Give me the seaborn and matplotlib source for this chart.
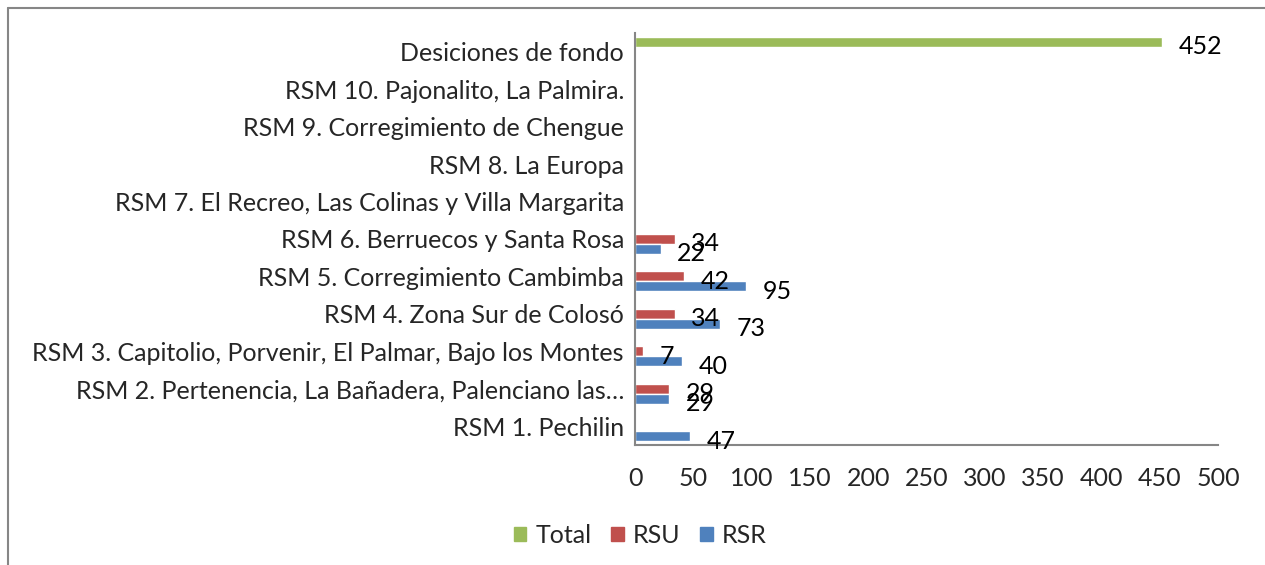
import pandas as pd
import matplotlib.pyplot as plt
import matplotlib.patches as mpatches
from matplotlib.lines import Line2D
import seaborn as sns
import numpy as np

# === Data ===
categories = [
    "RSM 1. Pechilin",
    "RSM 2. Pertenencia, La Bañadera, Palenciano las…",
    "RSM 3. Capitolio, Porvenir, El Palmar, Bajo los Montes",
    "RSM 4. Zona Sur de Colosó",
    "RSM 5. Corregimiento Cambimba",
    "RSM 6. Berruecos y Santa Rosa",
    "RSM 7. El Recreo, Las Colinas y Villa Margarita",
    "RSM 8. La Europa",
    "RSM 9. Corregimiento de Chengue",
    "RSM 10. Pajonalito, La Palmira.",
    "Desiciones de fondo",
]
rsr = [47, 29, 40, 73, 95, 22, np.nan, np.nan, np.nan, np.nan, np.nan]
rsu = [np.nan, 29, 7, 34, 42, 34, np.nan, np.nan, np.nan, np.nan, np.nan]
total = [np.nan] * 10 + [452]

series_order = ["Total", "RSU", "RSR"]
colors = {"Total": "#9BBB59", "RSU": "#C0504D", "RSR": "#4F81BD"}
x_ticks = list(range(0, 501, 50))

df = pd.DataFrame({"cat": categories, "RSR": rsr, "RSU": rsu, "Total": total})
long_df = df.melt(id_vars="cat", var_name="serie", value_name="valor").dropna()

# === Style ===
sns.set_theme(style="white")
plt.rcParams["font.family"] = ["Lato", "DejaVu Sans"]
FS = 18

fig = plt.figure(figsize=(12.65, 5.65), dpi=100)
ax = fig.add_axes([0.502, 0.212, 0.461, 0.730])

sns.barplot(
    data=long_df, y="cat", x="valor", hue="serie",
    order=categories[::-1], hue_order=series_order,
    palette=colors, errorbar=None, width=0.8, saturation=1,
    orient="h", ax=ax,
)

# data labels, a bit right of the bar end and slightly lower (as in Excel)
for c in ax.containers:
    texts = ax.bar_label(c, fmt="%.0f", padding=12, fontsize=FS, color="black")
    for t in texts:
        t.xyann = (12, -3.5)

ax.set_xlim(0, 500)
ax.set_xticks(x_ticks)
ax.set_ylim(10.5, -0.5)
ax.set_xlabel("")
ax.set_ylabel("")
ax.tick_params(axis="x", length=0, pad=16, labelsize=FS)
ax.tick_params(axis="y", length=0, pad=8, labelsize=FS)
for s in ["top", "right"]:
    ax.spines[s].set_visible(False)
for s in ["left", "bottom"]:
    ax.spines[s].set_color("#868686")
    ax.spines[s].set_linewidth(1.5)

ax.get_legend().remove()
handles = [mpatches.Patch(color=colors[s], label=s) for s in series_order]
fig.legend(handles=handles, loc="center", bbox_to_anchor=(0.506, 0.053),
           ncol=3, frameon=False, fontsize=FS, handlelength=0.5,
           handleheight=0.5, handletextpad=0.35, columnspacing=0.8)

# chart area border (top and left visible, rest cropped)
fig.add_artist(Line2D([8 / 1265, 1.0], [1 - 8 / 565] * 2, color="#868686", lw=1.5))
fig.add_artist(Line2D([8 / 1265] * 2, [0.0, 1 - 8 / 565], color="#868686", lw=1.5))

plt.savefig("out.png", dpi=100)
